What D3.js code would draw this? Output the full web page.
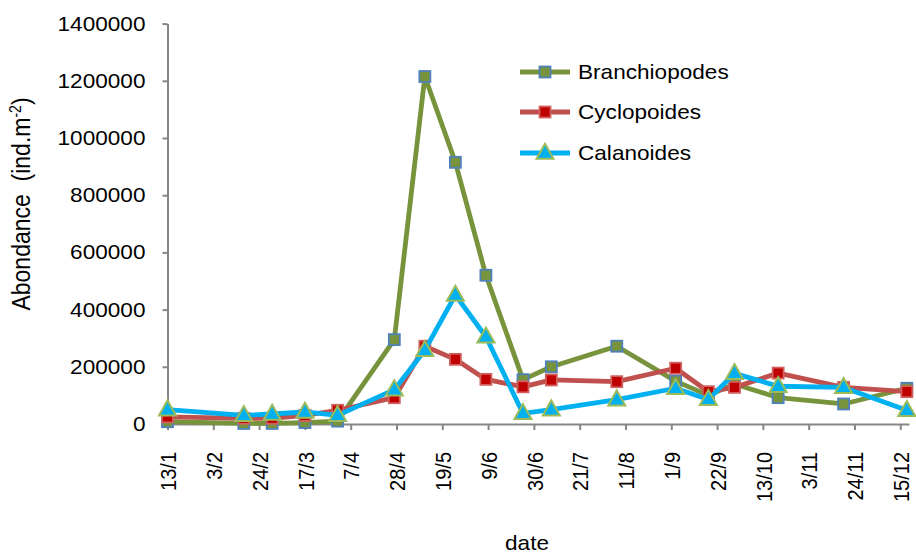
<!DOCTYPE html>
<html><head><meta charset="utf-8">
<script src="https://cdn.jsdelivr.net/npm/d3@7"></script>
<style>
html,body{margin:0;padding:0;background:#fff;}
text{font-family:"Liberation Sans",Arial,sans-serif;fill:#000;}
</style></head>
<body>
<svg id="c" width="916" height="554"></svg>
<script>
// ---- data ----
const dates = ["2001-01-13","2001-02-17","2001-03-02","2001-03-17","2001-04-01","2001-04-27","2001-05-11","2001-05-25","2001-06-08","2001-06-25","2001-07-08","2001-08-07","2001-09-03","2001-09-18","2001-09-30","2001-10-20","2001-11-19","2001-12-18"];
const branchiopodes = [8000,2000,2000,5000,10000,295000,1215000,915000,520000,155000,200000,272000,150000,100000,140000,92000,70000,125000];
const cyclopoides   = [25000,20000,20000,30000,48000,92000,272000,226000,156000,130000,154000,148000,195000,113000,128000,178000,128000,113000];
const calanoides    = [50000,30000,35000,42000,30000,120000,258000,451000,305000,37000,50000,85000,125000,86000,177000,132000,128000,48000];
const seriesNames = ["Branchiopodes","Cyclopoides","Calanoides"];
const xTickLabels = ["13/1","3/2","24/2","17/3","7/4","28/4","19/5","9/6","30/6","21/7","11/8","1/9","22/9","13/10","3/11","24/11","15/12"];
const yTicks = [0,200000,400000,600000,800000,1000000,1200000,1400000];
const xDomain = ["2001-01-13","2001-12-19"];

const svg = d3.select("#c");
const parse = d3.utcParse("%Y-%m-%d");
const x = d3.scaleUtc().domain(xDomain.map(parse)).range([167.5, 909]);
const y = d3.scaleLinear().domain([0,1400000]).range([424, 23.6]);
const fs = 20, sx = 1.13;
const FF = "Liberation Sans, Arial, sans-serif";

const styles = [
  {line:"#77933C", fill:"#77933C", stroke:"#4F81BD", shape:"square"},
  {line:"#C0504D", fill:"#C00000", stroke:"#D0605D", shape:"square"},
  {line:"#00B0F0", fill:"#00B0F0", stroke:"#9BBB59", shape:"triangle"}
];
const values = [branchiopodes, cyclopoides, calanoides];

// axes
const tickDates = xTickLabels.map(l => { const [d,m] = l.split("/").map(Number); return new Date(Date.UTC(2001, m-1, d)); });
const xAxis = d3.axisBottom(x).tickValues(tickDates).tickSize(6).tickSizeOuter(0).tickFormat((d,i)=>xTickLabels[i]);
const gx = svg.append("g").attr("transform","translate(0,424)").call(xAxis);
gx.select(".domain").attr("stroke","#868686").attr("stroke-width",2);
gx.selectAll(".tick line").attr("stroke","#868686").attr("stroke-width",2);
gx.selectAll(".tick text").attr("font-size",fs).attr("text-anchor","end")
  .attr("transform",`scale(${sx},1) rotate(-90)`).attr("x",-28).attr("y",0).attr("dy","0.36em").style("font-family",FF);

const yAxis = d3.axisLeft(y).tickValues(yTicks).tickSize(5).tickSizeOuter(0).tickFormat(d3.format("d"));
const gy = svg.append("g").attr("transform","translate(167.5,0)").call(yAxis);
gy.select(".domain").attr("stroke","#868686").attr("stroke-width",2);
gy.selectAll(".tick line").attr("stroke","#868686").attr("stroke-width",2);
gy.selectAll(".tick text").attr("font-size",fs).attr("x",0).attr("transform",`translate(-22,0) scale(${sx},1)`).style("font-family",FF);

// axis titles
const yt = svg.append("text").attr("transform",`translate(30,204) scale(${sx},1) rotate(-90)`).attr("text-anchor","middle").attr("font-size",23).attr("xml:space","preserve");
yt.append("tspan").text("Abondance  (ind.m");
yt.append("tspan").attr("dy",-8).attr("font-size",14).text("-2");
yt.append("tspan").attr("dy",8).text(")");
svg.append("text").attr("transform",`translate(527,550) scale(${sx},1)`).attr("text-anchor","middle").attr("font-size",fs).text("date");

// series
const line = d3.line().x(d=>x(d.date)).y(d=>y(d.v));
function marker(g, cx, cy, st){
  if(st.shape==="square"){
    g.append("rect").attr("x",cx-5.5).attr("y",cy-5.5).attr("width",11).attr("height",11)
      .attr("fill",st.fill).attr("stroke",st.stroke).attr("stroke-width",1.8);
  } else {
    const w=17, h=15;
    g.append("path").attr("d",`M${cx},${cy-h*0.62}L${cx+w/2},${cy+h*0.38}L${cx-w/2},${cy+h*0.38}Z`)
      .attr("fill",st.fill).attr("stroke",st.stroke).attr("stroke-width",2);
  }
}
values.forEach((vals,si)=>{
  const st = styles[si];
  const pts = dates.map((d,i)=>({date:parse(d), v:vals[i]}));
  const g = svg.append("g");
  g.append("path").datum(pts).attr("d",line).attr("fill","none").attr("stroke",st.line).attr("stroke-width",4.8).attr("stroke-linejoin","round");
  pts.forEach(p=>marker(g, x(p.date), y(p.v), st));
});

// legend
const legY = [72,112,153];
seriesNames.forEach((n,i)=>{
  const st = styles[i];
  const g = svg.append("g");
  g.append("line").attr("x1",520).attr("x2",570).attr("y1",legY[i]).attr("y2",legY[i]).attr("stroke",st.line).attr("stroke-width",4.8);
  marker(g, 545, legY[i], st);
  g.append("text").attr("transform",`translate(578,${legY[i]}) scale(${sx},1)`).attr("dy","0.35em").attr("font-size",fs).text(n);
});
</script>
</body></html>
